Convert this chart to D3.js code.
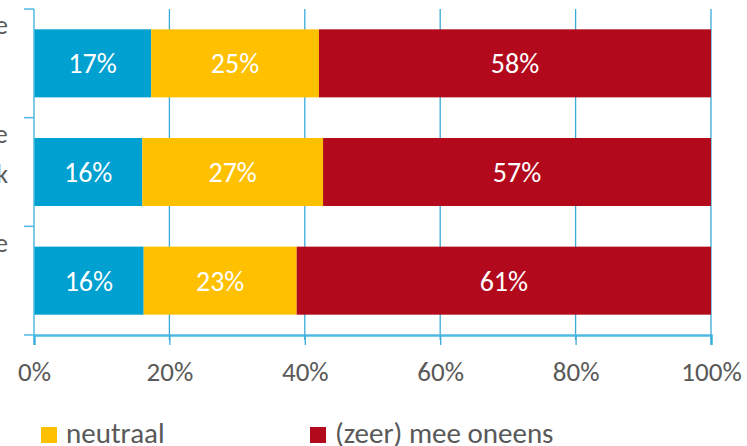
<!DOCTYPE html>
<html><head><meta charset="utf-8">
<script src="https://cdn.jsdelivr.net/npm/d3@7"></script>
<style>
html,body{margin:0;padding:0;background:#fff;overflow:hidden;}
svg{display:block;font-family:Carlito,Lato,sans-serif;}
</style></head>
<body>
<svg id="chart" width="747" height="446"></svg>
<script>
// ---- data ----
const categories = ["A", "B", "C"];
// only the label lines that reach into the visible picture (3 line slots per category)
const categoryLines = [
  ["Ik maak me zorgen over de"],
  ["Er is te weinig aandacht voor de", "veiligheid in de buurt en de wijk"],
  ["Ik voel me thuis goed beschermde"]
];
const seriesNames = ["(zeer) mee eens", "neutraal", "(zeer) mee oneens"];
const meeEens = [17.3, 16.0, 16.2];
const neutraal = [24.8, 26.7, 22.6];
const meeOneens = [57.9, 57.3, 61.2];
const xTicks = [0, 20, 40, 60, 80, 100];
const colors = ["#00A0D1", "#FFC000", "#B2091D"];

const svg = d3.select("#chart");
const axisColor = "#4FBBE2";
const gridColor = "#3AAAD8";
const textColor = "#595959";

const x = d3.scaleLinear().domain([0, 100]).range([34, 711]);
const y = d3.scaleBand().domain(categories).range([9, 335]).paddingInner(0.374).paddingOuter(0.187);

// gridlines
svg.append("g").selectAll("line").data(xTicks.slice(1)).join("line")
  .attr("x1", d => x(d)).attr("x2", d => x(d))
  .attr("y1", 9).attr("y2", 340)
  .attr("stroke", gridColor).attr("stroke-width", 1.3);

// stacked bars
const table = categories.map((c, i) => ({cat: c, v0: meeEens[i], v1: neutraal[i], v2: meeOneens[i]}));
const stack = d3.stack().keys(["v0", "v1", "v2"])(table);
const gBars = svg.append("g");
stack.forEach((layer, li) => {
  gBars.append("g").selectAll("rect").data(layer).join("rect")
    .attr("x", d => x(d[0]))
    .attr("width", d => x(d[1]) - x(d[0]))
    .attr("y", d => y(d.data.cat))
    .attr("height", y.bandwidth())
    .attr("fill", colors[li]);
  gBars.append("g").selectAll("text").data(layer).join("text")
    .attr("x", d => (x(d[0]) + x(d[1])) / 2)
    .attr("y", d => y(d.data.cat) + y.bandwidth() / 2)
    .attr("dy", "0.36em")
    .attr("text-anchor", "middle")
    .attr("fill", "#fff")
    .attr("font-size", 28)
    .text(d => Math.round(d[1] - d[0]) + "%");
});

// x axis
const xAxis = d3.axisBottom(x).tickValues(xTicks).tickFormat(d => d + "%").tickSize(10).tickPadding(17);
const gx = svg.append("g").attr("transform", "translate(0,335)").call(xAxis);
gx.select(".domain").attr("stroke", axisColor).attr("stroke-width", 2.5);
gx.selectAll(".tick line").attr("stroke", gridColor).attr("stroke-width", 1.3);
gx.selectAll("text").attr("fill", textColor).attr("font-size", 27).attr("font-family", "Carlito,Lato,sans-serif");

// y axis (ticks at band boundaries)
const bounds = categories.map(c => y(c) - y.step() * y.paddingInner() / 2).concat([335]);
svg.append("line").attr("x1", 34).attr("x2", 34).attr("y1", 9).attr("y2", 340)
  .attr("stroke", axisColor).attr("stroke-width", 1.5);
svg.append("g").selectAll("line").data(bounds).join("line")
  .attr("x1", 24).attr("x2", 34).attr("y1", d => d).attr("y2", d => d)
  .attr("stroke", axisColor).attr("stroke-width", 1.5);

// category labels (centred multi-line, cropped at left edge)
categories.forEach((c, i) => {
  const g = svg.append("g");
  const cy = y(c) + y.bandwidth() / 2;
  const lines = categoryLines[i];
  const texts = g.selectAll("text").data(lines).join("text")
    .attr("y", (d, k) => cy + (k - 1) * 40 + 11)
    .attr("text-anchor", "middle")
    .attr("fill", textColor)
    .attr("font-size", 26)
    .text(d => d);
  let maxW = 0;
  texts.each(function() { maxW = Math.max(maxW, this.getComputedTextLength()); });
  texts.attr("x", 8 - maxW / 2);
});

// legend
const legend = svg.append("g");
const legendX = d3.scaleLinear().domain([0, 1]).range([-228, 41]);
seriesNames.forEach((s, i) => {
  const lx = legendX(i);
  legend.append("rect").attr("x", lx).attr("y", 427).attr("width", 16).attr("height", 16).attr("fill", colors[i]);
  legend.append("text").attr("x", lx + 25).attr("y", 443).attr("fill", textColor).attr("font-size", 29).text(s);
});
</script>
</body></html>
